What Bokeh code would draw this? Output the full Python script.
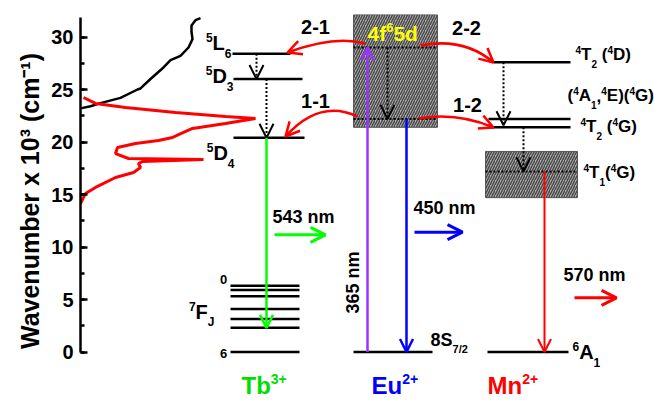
import numpy as np
from bokeh.plotting import figure
from bokeh.models import Range1d, Label, Arrow, OpenHead, SingleIntervalTicker, ColumnDataSource, Title
from bokeh.embed import file_html
from bokeh.resources import INLINE

# ---------------- data ----------------
# left-hand spectra: intensity (a.u., 0 at the axis) vs wavenumber (10^3 cm^-1)
black_int = [0, 10, 20, 40, 57, 60, 70, 83, 90, 100, 108, 112, 111, 111, 115, 120]
black_wn = [23.2, 23.4, 23.7, 24.2, 25.0, 25.1, 26.0, 27.1, 27.8, 28.2, 29.0, 29.8, 30.5, 31.1, 31.6, 31.8]
red_int = [3, 15, 45, 95, 145, 175, 145, 112, 98, 92, 78, 55, 37, 35, 48, 123, 62, 58, 60, 53, 35, 15, 5, 0]
red_wn = [24.24, 23.67, 23.29, 22.81, 22.43, 22.24, 21.76, 21.29, 20.71, 20.43, 20.14, 19.86, 19.48,
          18.9, 18.43, 18.33, 18.14, 17.95, 17.57, 17.09, 16.62, 15.67, 15.1, 14.14]

# energy levels (10^3 cm^-1)
tb_excited = [28.4, 26.0, 20.4]            # 5L6, 5D3, 5D4
tb_7F = [6.3, 5.9, 5.3, 4.1, 3.15, 2.3, 0.0]  # 7F0 ... 7F6
eu_band = [21.4, 32.1]                     # 4f6 5d band bottom / top
eu_5d = [29.0, 22.2]                       # upper / lower 5d levels
eu_ground = 0.0                            # 8S7/2
mn_levels = [27.6, 22.2, 21.4]             # 4T2(4D), (4A1,4E)(4G), 4T2(4G)
mn_4T1_band = [14.7, 19.1]
mn_4T1 = 17.2
mn_ground = 0.0                            # 6A1
emission_labels = ["543 nm", "450 nm", "570 nm"]
excitation_label = "365 nm"
transfer_labels = ["2-1", "1-1", "2-2", "1-2"]
axis_title = "Wavenumber x 10³ (cm⁻¹)"

# ---------------- layout helpers (pixel geometry) ----------------
PX0 = 80.0
Y0, K = 351.5, 10.5
def X(px): return px - PX0
def Y(py): return (Y0 - py) / K

FONT = "Liberation Sans"

p = figure(width=654, height=401, x_range=Range1d(0, 574), y_range=Range1d(Y(401), Y(0)),
           output_backend="svg", toolbar_location=None, x_axis_location=None,
           y_axis_location="left", min_border=0, min_border_left=80,
           background_fill_color="white", border_fill_color="white")
p.outline_line_color = None
p.grid.visible = False
ax = p.yaxis[0]
ax.ticker = SingleIntervalTicker(interval=5, num_minor_ticks=2)
ax.bounds = (0, 31.9)
ax.axis_line_width = 2.5
ax.major_tick_in = 7
ax.major_tick_out = 0
ax.major_tick_line_width = 2.5
ax.minor_tick_in = 4
ax.minor_tick_out = 0
ax.minor_tick_line_width = 2.5
ax.major_label_text_font = FONT
ax.major_label_text_font_size = "20px"
ax.major_label_text_font_style = "bold"
ax.major_label_text_color = "black"
ax.major_label_standoff = 7

p.add_layout(Title(text=axis_title, align="center", offset=11, standoff=10,
                   text_font=FONT, text_font_size="25px", text_font_style="bold",
                   text_color="black"), "left")

# ---------------- spectra ----------------
p.line(black_int, black_wn, line_color="black", line_width=2.5)
p.line(red_int, red_wn, line_color="#ff0000", line_width=3)

# ---------------- hatched bands ----------------
band_src = ColumnDataSource(dict(left=[X(353), X(485)], right=[X(437), X(577)],
                                 bottom=[eu_band[0], mn_4T1_band[0]], top=[eu_band[1], mn_4T1_band[1]]))
p.quad(left="left", right="right", bottom="bottom", top="top", source=band_src,
       fill_color="#b4b4b4", hatch_pattern="/", hatch_color="#4a4a4a", hatch_scale=5,
       hatch_weight=1.5, line_color="#555555", line_width=1)

# dotted levels inside bands
dot_src = ColumnDataSource(dict(x0=[X(353), X(353), X(485)], x1=[X(437), X(437), X(577)],
                                y=[eu_5d[0], eu_5d[1], mn_4T1]))
p.segment(x0="x0", y0="y", x1="x1", y1="y", source=dot_src, line_color="black",
          line_width=2, line_dash="2 2")

# ---------------- solid levels ----------------
lx0 = [X(232), X(233), X(233)] + [X(230)] * len(tb_7F) + [X(353)] + [X(493), X(488), X(488)] + [X(487)]
lx1 = [X(290), X(302), X(304)] + [X(299)] * len(tb_7F) + [X(432)] + [X(570), X(570), X(570)] + [X(568)]
ly = tb_excited + tb_7F + [eu_ground] + mn_levels + [mn_ground]
p.segment(x0=lx0, y0=ly, x1=lx1, y1=ly, line_color="black", line_width=2.5)

# ---------------- vertical arrows ----------------
def arrows(xs, y0s, y1s, color, dash="solid", width=2, size=13):
    src = ColumnDataSource(dict(x=xs, y0=y0s, y1=y1s))
    p.add_layout(Arrow(end=OpenHead(size=size, line_color=color, line_width=width),
                       source=src, x_start="x", y_start="y0", x_end="x", y_end="y1",
                       line_color=color, line_width=width, line_dash=dash))

arrows([X(256), X(266), X(387), X(503), X(523)],
       [tb_excited[0], tb_excited[1], eu_5d[0], mn_levels[0], mn_levels[2]],
       [tb_excited[1], tb_excited[2], eu_5d[1], mn_levels[2] + 0.2, mn_4T1],
       "black", dash="2 2", width=2, size=14)
arrows([X(266)], [tb_excited[2]], [tb_7F[5]], "#00ff00", width=2.5)
arrows([X(367)], [eu_ground], [eu_5d[0]], "#9933ff", width=2.5)
arrows([X(406)], [eu_5d[1]], [eu_ground], "#0000ff", width=2.5)
arrows([X(544)], [mn_4T1], [mn_ground], "#ff0000", width=2)

# emission arrows (horizontal)
for (x0, x1, py, col) in [(274, 325, 234.3, "#00ff00"), (414, 462, 231.7, "#0000ff"), (574, 616, 297.3, "#ff0000")]:
    p.add_layout(Arrow(end=OpenHead(size=15, line_color=col, line_width=3),
                       x_start=X(x0), y_start=Y(py), x_end=X(x1), y_end=Y(py),
                       line_color=col, line_width=3))

# ---------------- energy-transfer curves ----------------
curves = [((365, 43), (334, 34.5), (287, 52)),
          ((357, 116), (319, 98), (285, 136)),
          ((420, 45), (463.5, 36.5), (493, 62)),
          ((418, 118), (456.5, 111.5), (493, 127))]
p.quadratic(x0=[X(c[0][0]) for c in curves], y0=[Y(c[0][1]) for c in curves],
            x1=[X(c[2][0]) for c in curves], y1=[Y(c[2][1]) for c in curves],
            cx=[X(c[1][0]) for c in curves], cy=[Y(c[1][1]) for c in curves],
            line_color="#ff0000", line_width=2.5)
for (P0, C, P2) in curves:
    d = np.array([P2[0] - C[0], P2[1] - C[1]], dtype=float)
    d /= np.hypot(*d)
    s = np.array(P2, dtype=float) - 6 * d
    p.add_layout(Arrow(end=OpenHead(size=14, line_color="#ff0000", line_width=2.5),
                       x_start=X(s[0]), y_start=Y(s[1]), x_end=X(P2[0]), y_end=Y(P2[1]),
                       line_color="#ff0000", line_width=2.5))

# ---------------- texts ----------------
W = {' ': 278, '-': 333, '+': 584, '/': 278, '(': 333, ')': 333, ',': 278,
     'A': 722, 'D': 722, 'E': 667, 'F': 611, 'G': 778, 'J': 556, 'L': 611, 'M': 833, 'S': 667, 'T': 611,
     'b': 611, 'd': 611, 'f': 333, 'm': 889, 'n': 611, 'u': 611}
def tw(s, size):
    return sum(W.get(c, 556) for c in s) / 1000.0 * size

SHIFT = 0.33  # empirical baseline correction (fraction of font size)

def rich(xpx, base_py, parts, size, color="black", align="left"):
    small = round(size * 0.6)
    widths = [tw(t, size if k == "n" else small) for t, k in parts]
    total = sum(widths)
    x = xpx - total if align == "right" else (xpx - total / 2 if align == "center" else xpx)
    for (t, k), w in zip(parts, widths):
        fs = size if k == "n" else small
        if k == "n":
            by = base_py
        elif k == "sup":
            by = base_py - 0.42 * size
        else:
            by = base_py + 0.38 * size
        lead = len(t) - len(t.lstrip(" "))
        xt = x + tw(" " * lead, fs)
        p.add_layout(Label(x=X(xt), y=Y(by - SHIFT * fs), text=t.strip(" "), text_align="left",
                           text_baseline="alphabetic", text_font=FONT, text_font_size=f"{fs}px",
                           text_font_style="bold", text_color=color))
        x += w

rich(231, 49, [("5", "sup"), ("L", "n"), ("6", "sub")], 20, align="right")
rich(233, 82, [("5", "sup"), ("D", "n"), ("3", "sub")], 20, align="right")
rich(234, 159, [("5", "sup"), ("D", "n"), ("4", "sub")], 20, align="right")
rich(214, 318, [("7", "sup"), ("F", "n"), ("J", "sub")], 20, align="right")
rich(223, 283, [("0", "n")], 13, align="center")
rich(223, 357, [("6", "n")], 13, align="center")
for t, (cx, by) in zip(transfer_labels, [(315, 33), (315, 107), (466, 34), (467, 111)]):
    rich(cx, by, [(t, "n")], 20, align="center")
rich(367, 40, [("4f", "n"), ("6", "sup"), ("5d", "n")], 21, color="#ffff00")
for t, (x0, by) in zip(emission_labels, [(272, 222), (413, 213), (563, 280)]):
    rich(x0, by, [(t, "n")], 18)
rich(430, 345, [("8S", "n"), ("7/2", "sub")], 18)
rich(572, 358, [("6", "sup"), ("A", "n"), ("1", "sub")], 20)
rich(575, 60, [("4", "sup"), ("T", "n"), ("2", "sub"), (" (", "n"), ("4", "sup"), ("D)", "n")], 17)
rich(567, 101, [("(", "n"), ("4", "sup"), ("A", "n"), ("1", "sub"), (",", "n"), ("4", "sup"),
                ("E)(", "n"), ("4", "sup"), ("G)", "n")], 17)
rich(580, 132, [("4", "sup"), ("T", "n"), ("2", "sub"), (" (", "n"), ("4", "sup"), ("G)", "n")], 17)
rich(583, 178, [("4", "sup"), ("T", "n"), ("1", "sub"), ("(", "n"), ("4", "sup"), ("G)", "n")], 17)
rich(241, 393, [("Tb", "n"), ("3+", "sup")], 24, color="#00dd00")
rich(371, 393, [("Eu", "n"), ("2+", "sup")], 24, color="#0000ff")
rich(487, 393, [("Mn", "n"), ("2+", "sup")], 24, color="#ff0000")

p.add_layout(Label(x=X(358 - SHIFT * 18), y=Y(313), text=excitation_label, angle=np.pi / 2,
                   text_align="left", text_baseline="alphabetic", text_font=FONT,
                   text_font_size="18px", text_font_style="bold", text_color="black"))

open("out.html", "w").write(file_html(p, INLINE))
